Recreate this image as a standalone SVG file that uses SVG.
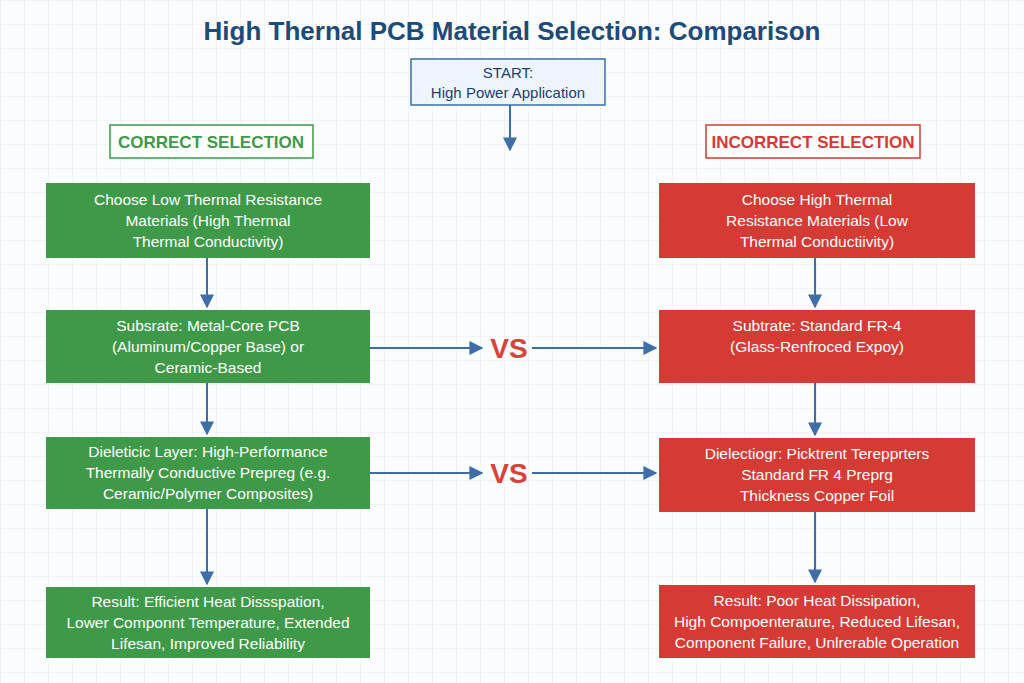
<svg xmlns="http://www.w3.org/2000/svg" width="1024" height="683" viewBox="0 0 1024 683">
<defs>
<pattern id="grid" width="24" height="24" patternUnits="userSpaceOnUse"><path d="M24 0H0V24" fill="none" stroke="#e8ecf0" stroke-width="1"/></pattern>
<marker id="ah" viewBox="0 0 10 10" refX="9" refY="5" markerWidth="7" markerHeight="7" orient="auto"><path d="M0 0L10 5L0 10z" fill="#3d6ea8"/></marker>
<style>
.t{font-family:"Liberation Sans",Arial,sans-serif;text-anchor:middle}
.w{fill:#fff;font-size:15.5px}
.g{fill:#3e9a48}
.r{fill:#d53a35}
.c{stroke:#3d6ea8;stroke-width:2;fill:none;marker-end:url(#ah)}
.vs{fill:#d9413a;font-size:28px;font-weight:bold}
</style>
</defs>
<rect width="1024" height="683" fill="#fbfcfd"/>
<rect width="1024" height="683" fill="url(#grid)"/>
<text class="t" x="512" y="40" fill="#1d4b7a" font-size="26" font-weight="bold">High Thernal PCB Material Selection: Comparison</text>
<g id="start"><rect x="411" y="59" width="194" height="46" fill="#eef4fb" stroke="#3d6ea8" stroke-width="1.5"/><text class="t" x="508" y="78" font-size="15" fill="#1d3f6e">START:</text><text class="t" x="508" y="98" font-size="15" fill="#1d3f6e">High Power Application</text></g>
<g id="lab-correct"><rect x="110" y="125" width="203" height="33" fill="#fff" stroke="#3e9a48" stroke-width="1.5"/><text class="t" x="211" y="148" font-size="17" font-weight="bold" fill="#3e9a48">CORRECT SELECTION</text></g>
<g id="lab-incorrect"><rect x="706" y="125" width="214" height="33" fill="#fff" stroke="#d53a35" stroke-width="1.5"/><text class="t" x="813" y="148" font-size="17" font-weight="bold" fill="#d53a35">INCORRECT SELECTION</text></g>
<g id="l1"><rect class="g" x="46" y="183" width="324" height="75"/><text class="t w" x="208" y="205">Choose Low Thermal Resistance</text><text class="t w" x="208" y="226">Materials (High Thermal</text><text class="t w" x="208" y="247">Thermal Conductivity)</text></g>
<g id="l2"><rect class="g" x="46" y="310" width="324" height="73"/><text class="t w" x="208" y="331">Subsrate: Metal-Core PCB</text><text class="t w" x="208" y="352">(Aluminum/Copper Base) or</text><text class="t w" x="208" y="373">Ceramic-Based</text></g>
<g id="l3"><rect class="g" x="46" y="437" width="324" height="72"/><text class="t w" x="208" y="457">Dieleticic Layer: High-Performance</text><text class="t w" x="208" y="478">Thermally Conductive Prepreg (e.g.</text><text class="t w" x="208" y="499">Ceramic/Polymer Composites)</text></g>
<g id="l4"><rect class="g" x="46" y="587" width="324" height="71"/><text class="t w" x="208" y="607">Result: Efficient Heat Dissspation,</text><text class="t w" x="208" y="628">Lower Componnt Temperature, Extended</text><text class="t w" x="208" y="649">Lifesan, Improved Reliability</text></g>
<g id="r1"><rect class="r" x="659" y="183" width="316" height="75"/><text class="t w" x="817" y="205">Choose High Thermal</text><text class="t w" x="817" y="226">Resistance Materials (Low</text><text class="t w" x="817" y="247">Thermal Conductiivity)</text></g>
<g id="r2"><rect class="r" x="659" y="310" width="316" height="73"/><text class="t w" x="817" y="331">Subtrate: Standard FR-4</text><text class="t w" x="817" y="352">(Glass-Renfroced Expoy)</text></g>
<g id="r3"><rect class="r" x="659" y="438" width="316" height="74"/><text class="t w" x="817" y="459">Dielectiogr: Picktrent Terepprters</text><text class="t w" x="817" y="480">Standard FR 4 Preprg</text><text class="t w" x="817" y="501">Thickness Copper Foil</text></g>
<g id="r4"><rect class="r" x="659" y="585" width="316" height="73"/><text class="t w" x="817" y="606">Result: Poor Heat Dissipation,</text><text class="t w" x="817" y="627">High Compoenterature, Reduced Lifesan,</text><text class="t w" x="817" y="648">Component Failure, Unlrerable Operation</text></g>
<g id="vs"><text class="t vs" x="509" y="358">VS</text><text class="t vs" x="509" y="483">VS</text></g>
<g id="connectors">
<path class="c" d="M510 105V150"/>
<path class="c" d="M207 258V307"/><path class="c" d="M207 383V434"/><path class="c" d="M207 509V584"/>
<path class="c" d="M815 258V307"/><path class="c" d="M815 383V435"/><path class="c" d="M815 512V582"/>
<path class="c" d="M370 348H482"/><path class="c" d="M532 348H656"/>
<path class="c" d="M370 473H482"/><path class="c" d="M532 473H656"/>
</g>
</svg>
